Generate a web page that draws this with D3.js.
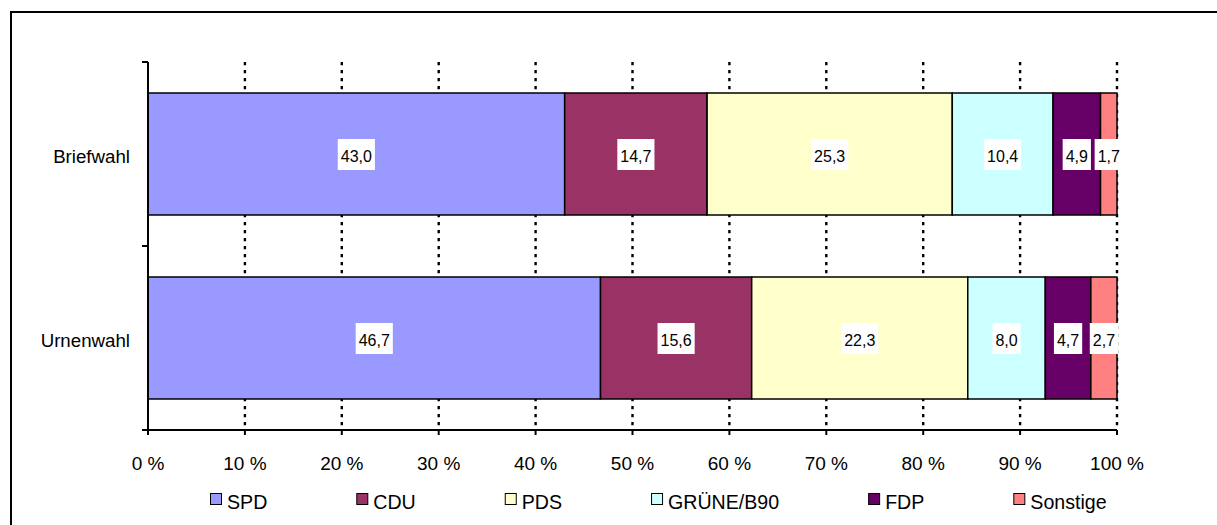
<!DOCTYPE html>
<html>
<head>
<meta charset="utf-8">
<script src="https://cdn.jsdelivr.net/npm/d3@7"></script>
<style>
  html, body { margin: 0; padding: 0; background: #fff; }
  svg { display: block; font-family: "Liberation Sans", Arial, sans-serif; }
</style>
</head>
<body>
<svg id="chart" width="1217" height="525"></svg>
<script>
const categories = ["Briefwahl", "Urnenwahl"];
const parties = ["SPD", "CDU", "PDS", "GRÜNE/B90", "FDP", "Sonstige"];
const briefwahl = [43.0, 14.7, 25.3, 10.4, 4.9, 1.7];
const urnenwahl = [46.7, 15.6, 22.3, 8.0, 4.7, 2.7];
const colors = ["#9999FF", "#993366", "#FFFFCC", "#CCFFFF", "#660066", "#FF8080"];
const xTicks = [0, 10, 20, 30, 40, 50, 60, 70, 80, 90, 100];

const seriesByCat = { "Briefwahl": briefwahl, "Urnenwahl": urnenwahl };

const svg = d3.select("#chart");

// outer frame
svg.append("rect")
  .attr("x", 11).attr("y", 12)
  .attr("width", 1240).attr("height", 560)
  .attr("fill", "none").attr("stroke", "#000").attr("stroke-width", 2);

const x = d3.scaleLinear().domain([0, 100]).range([148, 1117]);
const y = d3.scaleBand().domain(categories).range([62, 430])
  .paddingInner(0.337).paddingOuter(0.1685);

const color = d3.scaleOrdinal().domain(parties).range(colors);

// gridlines
svg.append("g").selectAll("line")
  .data(xTicks.filter(d => d > 0))
  .join("line")
  .attr("x1", d => x(d)).attr("x2", d => x(d))
  .attr("y1", 62).attr("y2", 430)
  .attr("stroke", "#000").attr("stroke-width", 2.4)
  .attr("stroke-dasharray", "3.3,4.7");

// stacked data
const rows = categories.map(c => {
  const o = { cat: c };
  parties.forEach((p, i) => o[p] = seriesByCat[c][i]);
  return o;
});
const stack = d3.stack().keys(parties)(rows);

const layers = svg.append("g").selectAll("g")
  .data(stack).join("g")
  .attr("fill", d => color(d.key));

layers.selectAll("rect")
  .data(d => d)
  .join("rect")
  .attr("x", d => x(d[0]))
  .attr("y", d => y(d.data.cat))
  .attr("width", d => x(d[1]) - x(d[0]))
  .attr("height", y.bandwidth())
  .attr("stroke", "#000").attr("stroke-width", 1.5);

// value labels
const fmt = v => d3.format(".1f")(v).replace(".", ",");
const labelG = svg.append("g");
stack.forEach(layer => {
  layer.forEach(d => {
    const cx = (x(d[0]) + x(d[1])) / 2;
    const cy = y(d.data.cat) + y.bandwidth() / 2;
    const g = labelG.append("g");
    const t = g.append("text")
      .attr("x", cx).attr("y", cy + 8)
      .attr("text-anchor", "middle")
      .attr("font-size", 16)
      .attr("fill", "#000")
      .text(fmt(d[1] - d[0]));
    const w = t.node().getComputedTextLength();
    g.insert("rect", "text")
      .attr("x", cx - w / 2 - 3).attr("y", cy - 15)
      .attr("width", w + 6).attr("height", 31)
      .attr("fill", "#fff");
  });
});

// axes
const axisG = svg.append("g");
// y axis line
axisG.append("line")
  .attr("x1", 148).attr("x2", 148).attr("y1", 62).attr("y2", 430)
  .attr("stroke", "#000").attr("stroke-width", 2);
// y ticks (band boundaries)
const yBounds = [62, ...categories.map(c => y(c) - (y.step() - y.bandwidth()) / 2 + y.step())];
axisG.selectAll(".ytick").data(yBounds).join("line")
  .attr("x1", 142).attr("x2", 148)
  .attr("y1", d => d).attr("y2", d => d)
  .attr("stroke", "#000").attr("stroke-width", 2);
// x axis line
axisG.append("line")
  .attr("x1", 142).attr("x2", x(100)).attr("y1", 430).attr("y2", 430)
  .attr("stroke", "#000").attr("stroke-width", 2);
axisG.selectAll(".xtick").data(xTicks).join("line")
  .attr("x1", d => x(d)).attr("x2", d => x(d))
  .attr("y1", 430).attr("y2", 435)
  .attr("stroke", "#000").attr("stroke-width", 2);
axisG.selectAll(".xlab").data(xTicks).join("text")
  .attr("x", d => x(d)).attr("y", 470)
  .attr("text-anchor", "middle")
  .attr("font-size", 19)
  .attr("fill", "#000")
  .text(d => d + " %");

// category labels
axisG.selectAll(".ylab").data(categories).join("text")
  .attr("x", 130)
  .attr("y", d => y(d) + y.bandwidth() / 2 + 8.5)
  .attr("text-anchor", "end")
  .attr("font-size", 18.7)
  .attr("fill", "#000")
  .text(d => d);

// legend
const legend = svg.append("g");
let lx = 210;
parties.forEach((p, i) => {
  legend.append("rect")
    .attr("x", lx + 0.5).attr("y", 493.5)
    .attr("width", 11).attr("height", 11)
    .attr("fill", colors[i]).attr("stroke", "#000").attr("stroke-width", 1);
  const t = legend.append("text")
    .attr("x", lx + 17).attr("y", 509)
    .attr("font-size", 19.6)
    .attr("fill", "#000")
    .text(p);
  lx += 17 + t.node().getComputedTextLength() + 89;
});
</script>
</body>
</html>
